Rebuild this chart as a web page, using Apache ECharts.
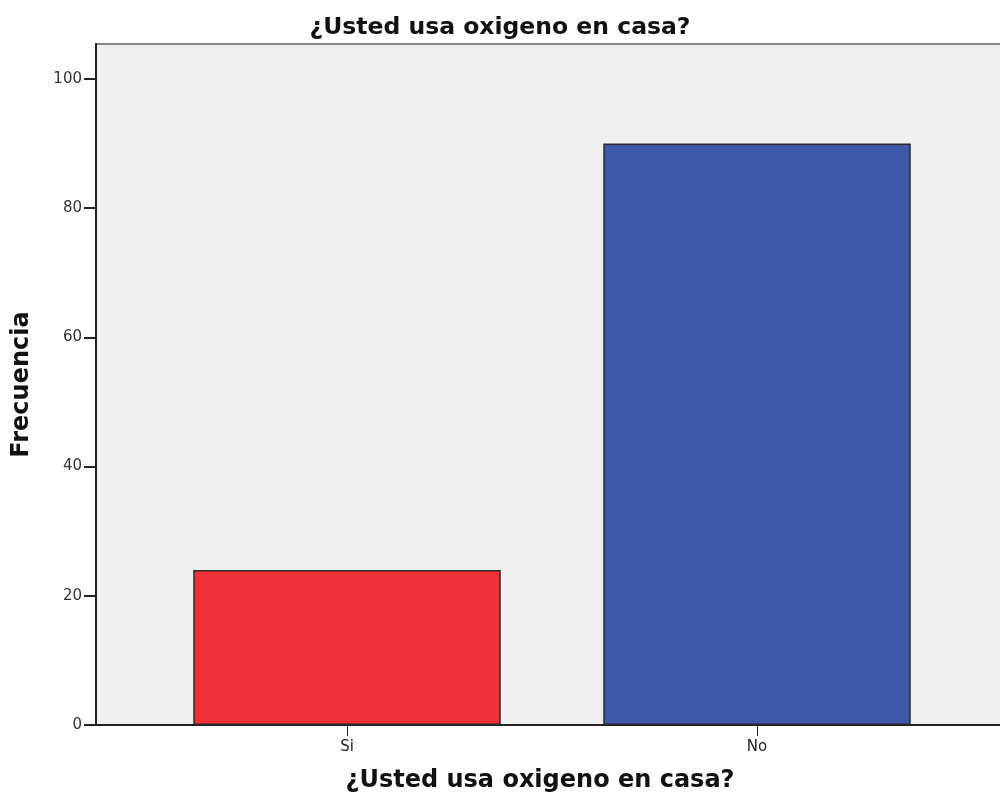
<!DOCTYPE html>
<html>
<head>
<meta charset="utf-8">
<script src="https://cdn.jsdelivr.net/npm/echarts@6/dist/echarts.min.js"></script>
<style>
  html, body { margin: 0; padding: 0; background: #ffffff; }
  #chart { width: 1000px; height: 799px; }
</style>
</head>
<body>
<div id="chart"></div>
<script>
// Frequency of home oxygen use
const titleText = '¿Usted usa oxigeno en casa?';
const yAxisTitle = 'Frecuencia';
const categories = ['Si', 'No'];
const frequencies = [24, 90];
const barColors = ['#ef3038', '#3d58a9'];
const yTicks = { min: 0, max: 100, interval: 20 };

const FONT = '"DejaVu Sans", "Open Sans", sans-serif';

const chart = echarts.init(document.getElementById('chart'), null, { renderer: 'canvas' });

chart.setOption({
  animation: false,
  backgroundColor: '#ffffff',
  title: {
    text: titleText,
    left: 'center',
    top: 11,
    textStyle: { fontFamily: FONT, fontSize: 23.5, fontWeight: 'bold', color: '#111' }
  },
  grid: [
    // frame of the plotting area
    { left: 96, right: -8, top: 44, bottom: 74, show: true, outerBoundsMode: 'none', containLabel: false,
      backgroundColor: '#efefef', borderColor: '#8a8a8a', borderWidth: 2 },
    // bars
    { left: 142, width: 820, top: 79, bottom: 74, outerBoundsMode: 'none', containLabel: false }
  ],
  xAxis: [
    {
      gridIndex: 1,
      type: 'category',
      data: categories,
      boundaryGap: true,
      axisLine: { show: false },
      axisTick: { show: true, alignWithLabel: true, length: 11, lineStyle: { color: '#222', width: 1 } },
      axisLabel: { fontFamily: FONT, fontSize: 15, color: '#222', margin: 15 },
      name: titleText,
      nameLocation: 'middle',
      nameGap: 44,
      nameTextStyle: { fontFamily: FONT, fontSize: 24, fontWeight: 'bold', color: '#111',
        padding: [0, 24, 0, 0] }
    },
    {
      gridIndex: 0,
      type: 'value',
      min: 0, max: 1,
      axisLine: { show: true, lineStyle: { color: '#222', width: 2 } },
      axisTick: { show: false },
      axisLabel: { show: false },
      splitLine: { show: false }
    }
  ],
  yAxis: [
    {
      gridIndex: 1,
      type: 'value',
      min: yTicks.min,
      max: yTicks.max,
      interval: yTicks.interval,
      offset: 46,
      axisLine: { show: false },
      axisTick: { show: true, length: 12, lineStyle: { color: '#222', width: 2 } },
      axisLabel: { fontFamily: FONT, fontSize: 15, color: '#333', margin: 14 },
      splitLine: { show: false }
    },
    {
      gridIndex: 0,
      type: 'value',
      min: 0, max: 1,
      axisLine: { show: true, lineStyle: { color: '#222', width: 2 } },
      axisTick: { show: false },
      axisLabel: { show: false },
      splitLine: { show: false },
      name: yAxisTitle,
      nameLocation: 'middle',
      nameGap: 62,
      nameRotate: 90,
      nameTextStyle: { fontFamily: FONT, fontSize: 24, fontWeight: 'bold', color: '#111' }
    }
  ],
  series: [
    {
      type: 'bar',
      xAxisIndex: 0,
      yAxisIndex: 0,
      barWidth: '75%',
      data: frequencies.map((v, i) => ({
        value: v,
        itemStyle: { color: barColors[i], borderColor: '#2a2a2a', borderWidth: 1.5 }
      }))
    }
  ]
});
</script>
</body>
</html>
